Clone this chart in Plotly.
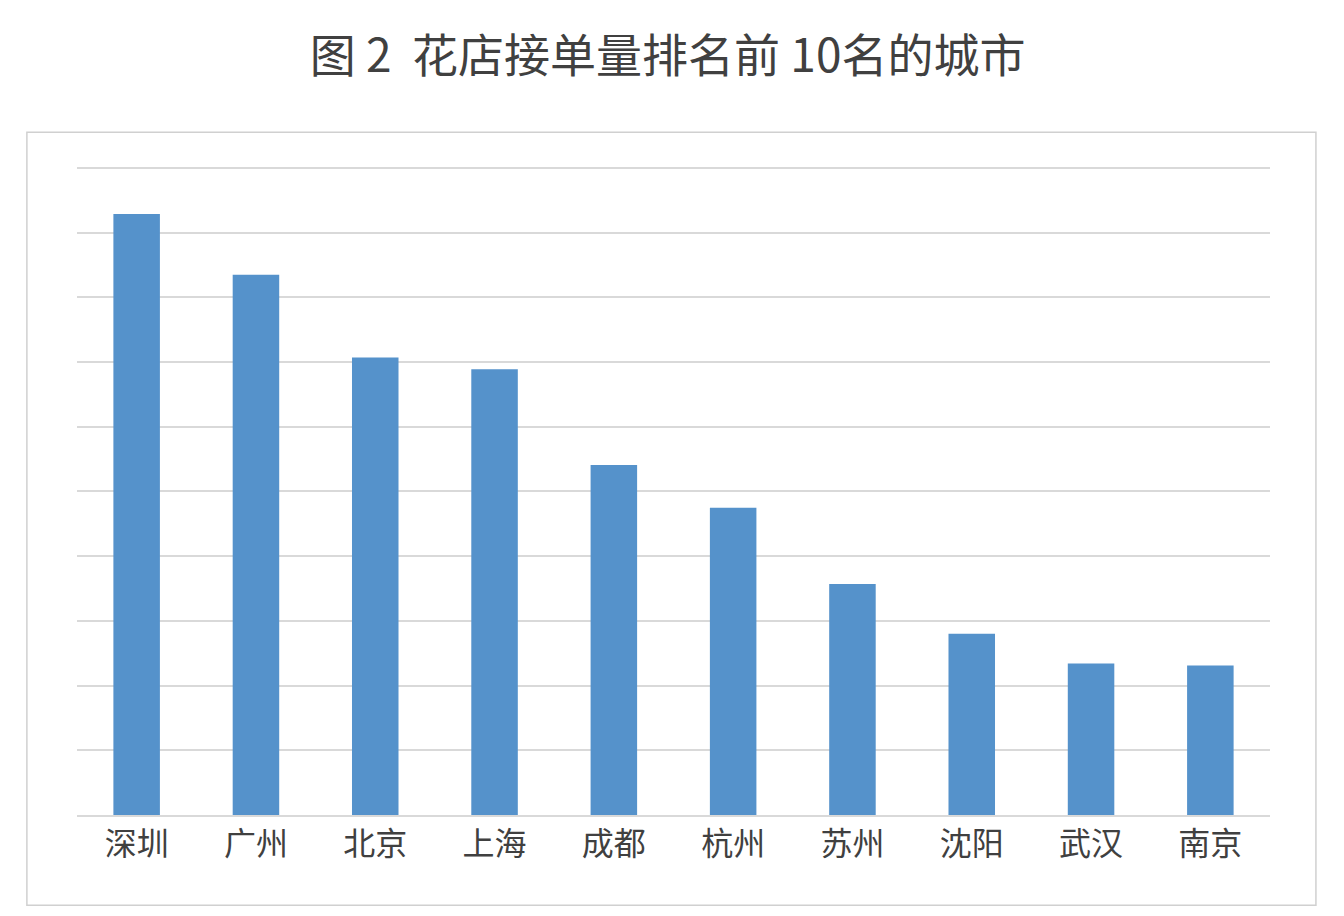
import plotly.graph_objects as go

cities = ["深圳", "广州", "北京", "上海", "成都", "杭州", "苏州", "沈阳", "武汉", "南京"]
orders = [9.29, 8.35, 7.07, 6.89, 5.41, 4.75, 3.57, 2.80, 2.34, 2.31]

fig = go.Figure(
    go.Bar(x=cities, y=orders, marker={"color": "#5592cb", "line": {"width": 0}}, width=0.39)
)
fig.update_layout(
    width=1344,
    height=916,
    paper_bgcolor="white",
    plot_bgcolor="white",
    font={"family": "Noto Sans CJK SC", "color": "#404040"},
    title={
        "text": "图 2  花店接单量排名前 10名的城市",
        "x": 0.495,
        "xref": "paper",
        "y": 0.965,
        "font": {"size": 46, "color": "#404040"},
    },
    margin={"l": 69, "r": 82, "t": 158, "b": 109},
    bargap=0.6,
    showlegend=False,
    xaxis={
        "tickfont": {"size": 32, "color": "#404040"},
        "showline": True,
        "linecolor": "#d9d9d9",
        "linewidth": 2,
        "ticks": "",
    },
    yaxis={
        "range": [0, 10.03],
        "dtick": 1,
        "showticklabels": False,
        "gridcolor": "#d9d9d9",
        "gridwidth": 2,
        "zeroline": False,
    },
    shapes=[
        {
            "type": "rect",
            "xref": "paper",
            "yref": "paper",
            "x0": -0.042,
            "x1": 1.0385,
            "y0": -0.139,
            "y1": 1.052,
            "line": {"color": "#d0d0d0", "width": 1.5},
        }
    ],
)
fig.write_html("out.html")
